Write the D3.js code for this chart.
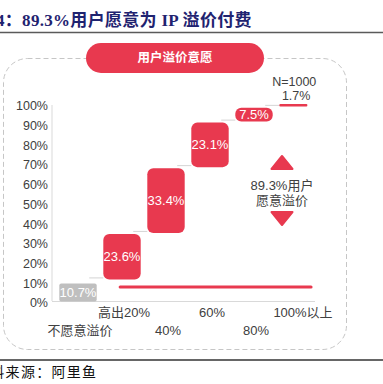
<!DOCTYPE html>
<html>
<head>
<meta charset="utf-8">
<script src="https://cdn.jsdelivr.net/npm/d3@7"></script>
<style>
  html, body { margin: 0; padding: 0; background: #fff; }
  svg { display: block; }
</style>
</head>
<body>
<script>
const titleText = "4：89.3%用户愿意为 IP 溢价付费";
const pillText = "用户溢价意愿";
const sourceText = "资料来源：阿里鱼";
const categories = ["不愿意溢价", "高出20%", "40%", "60%", "80%", "100%以上"];
const values = [10.7, 23.6, 33.4, 23.1, 7.5, 1.7];
const yTicks = [0, 10, 20, 30, 40, 50, 60, 70, 80, 90, 100];
const sampleLabel = "N=1000";
const annotationLines = ["89.3%用户", "愿意溢价"];

const W = 383, H = 384;
const RED = "#E8394F", GRAY_BAR = "#BFBFBF", TXT = "#404040";
const SANS = "'Liberation Sans', Arial, 'Noto Sans CJK SC', sans-serif";

const svg = d3.select("body").append("svg").attr("width", W).attr("height", H);

// Title
svg.append("text").attr("x", -4).attr("y", 26)
  .attr("font-family", "'Liberation Serif', 'DejaVu Serif', 'Noto Sans CJK SC', serif")
  .attr("font-weight", "bold").attr("font-size", 17).attr("fill", "#1F2370")
  .attr("letter-spacing", 0.3)
  .text(titleText);
svg.append("line").attr("x1", 0).attr("x2", W).attr("y1", 32.5).attr("y2", 32.5)
  .attr("stroke", "#5a5a5a").attr("stroke-width", 1.5);

// Dashed frame
svg.append("rect").attr("x", 3.5).attr("y", 58.5).attr("width", 343).attr("height", 291)
  .attr("rx", 24).attr("fill", "none").attr("stroke", "#c6c6c6")
  .attr("stroke-width", 1).attr("stroke-dasharray", "5,3");

// Pill header
svg.append("rect").attr("x", 86).attr("y", 43).attr("width", 178).attr("height", 30)
  .attr("rx", 15).attr("fill", RED);
svg.append("text").attr("x", 175).attr("y", 58).attr("dy", "0.35em")
  .attr("text-anchor", "middle").attr("fill", "#fff").attr("font-weight", "bold")
  .attr("font-size", 12.5).attr("font-family", "'Noto Sans CJK SC', sans-serif")
  .text(pillText);

// Scales
const x = d3.scaleBand().domain(categories).range([56, 320]).paddingInner(0.15).paddingOuter(0.075);
const y = d3.scaleLinear().domain([0, 100]).range([301, 104]);
const bw = x.bandwidth();

// Axis lines
svg.append("line").attr("x1", 52).attr("x2", 52).attr("y1", y(100) + 1).attr("y2", y(0))
  .attr("stroke", "#d9d9d9").attr("stroke-width", 1);
svg.append("line").attr("x1", 52).attr("x2", 315).attr("y1", y(0) + 0.5).attr("y2", y(0) + 0.5)
  .attr("stroke", "#d9d9d9").attr("stroke-width", 1);

// Y tick labels
svg.append("g").selectAll("text").data(yTicks).join("text")
  .attr("x", 48).attr("y", d => y(d) + 2).attr("dy", "0.35em")
  .attr("text-anchor", "end").attr("font-family", SANS).attr("font-size", 12.5)
  .attr("fill", TXT).text(d => d + "%");

// Waterfall data
let cum = 0;
const bars = values.map((v, i) => {
  const b = { cat: categories[i], v, start: cum, end: cum + v, i };
  cum += v;
  return b;
});

// Connectors
svg.append("g").selectAll("line").data(bars.slice(1)).join("line")
  .attr("x1", d => x(categories[d.i - 1]) + bw * 0.8)
  .attr("x2", d => x(d.cat))
  .attr("y1", d => y(d.start) - 2).attr("y2", d => y(d.start) - 2)
  .attr("stroke", "#d4d4d4").attr("stroke-width", 1);

// Bars
const thin = d => (y(d.start) - y(d.end)) < 5;
svg.append("g").selectAll("rect").data(bars).join("rect")
  .attr("x", d => x(d.cat))
  .attr("width", d => thin(d) ? bw * 0.75 : bw)
  .attr("y", d => y(d.end) + (thin(d) ? 0 : 0.5))
  .attr("height", d => thin(d) ? 2.5 : Math.max(0, y(d.start) - y(d.end) - (d.i === 0 ? 3 : 1)))
  .attr("rx", d => d.i === 0 ? 2 : (thin(d) ? 1 : 6))
  .attr("transform", d => d.i === 0 ? "translate(0,3)" : null)
  .attr("fill", d => d.i === 0 ? GRAY_BAR : RED);

// Bar labels
svg.append("g").selectAll("text").data(bars).join("text")
  .attr("x", d => thin(d) ? x(d.cat) + bw * 0.45 : x(d.cat) + bw / 2)
  .attr("y", d => thin(d) ? y(d.end) - 8.5 : (y(d.start) + y(d.end)) / 2 + (d.i === 0 ? 1.5 : 0))
  .attr("dy", "0.35em").attr("text-anchor", "middle")
  .attr("font-family", SANS).attr("font-size", d => thin(d) ? 12.5 : 13)
  .attr("fill", d => thin(d) ? TXT : "#fff")
  .text(d => d.v.toFixed(1) + "%");

// N label
svg.append("text").attr("x", x(categories[5]) + bw * 0.4).attr("y", y(100) - 22)
  .attr("dy", "0.35em").attr("text-anchor", "middle")
  .attr("font-family", SANS).attr("font-size", 12.5).attr("fill", TXT).text(sampleLabel);

// Bracket line (sum of willing users)
svg.append("line")
  .attr("x1", x(categories[1]) + bw * 0.45).attr("x2", x(categories[5]) + bw * 0.85)
  .attr("y1", y(0) - 14).attr("y2", y(0) - 14)
  .attr("stroke", RED).attr("stroke-width", 3).attr("stroke-linecap", "round");

// X labels (staggered)
svg.append("g").selectAll("text").data(categories).join("text")
  .attr("x", (d, i) => x(d) + bw / 2 + (i === 5 ? 5 : 2))
  .attr("y", (d, i) => i % 2 === 1 ? 312 : 330).attr("dy", "0.35em")
  .attr("text-anchor", "middle").attr("font-family", SANS).attr("font-size", 13)
  .attr("fill", TXT).text(d => d);

// Annotation with triangles
const ax = 282;
svg.append("path").attr("d", `M${ax},156 L${ax + 10.5},169 L${ax - 10.5},169 Z`)
  .attr("fill", RED).attr("stroke", RED).attr("stroke-width", 2).attr("stroke-linejoin", "round");
svg.append("path").attr("d", `M${ax - 10.5},212 L${ax + 10.5},212 L${ax},225 Z`)
  .attr("fill", RED).attr("stroke", RED).attr("stroke-width", 2).attr("stroke-linejoin", "round");
svg.append("g").selectAll("text").data(annotationLines).join("text")
  .attr("x", ax).attr("y", (d, i) => 185 + i * 15).attr("dy", "0.35em")
  .attr("text-anchor", "middle").attr("font-family", SANS).attr("font-size", 13)
  .attr("fill", TXT).text(d => d);

// Footer
svg.append("line").attr("x1", 0).attr("x2", W).attr("y1", 360).attr("y2", 360)
  .attr("stroke", "#333").attr("stroke-width", 1.5);
svg.append("text").attr("x", -25).attr("y", 377)
  .attr("font-family", "'Noto Sans CJK SC', serif").attr("font-size", 14)
  .attr("letter-spacing", 1.3).attr("fill", "#111").text(sourceText);
</script>
</body>
</html>
